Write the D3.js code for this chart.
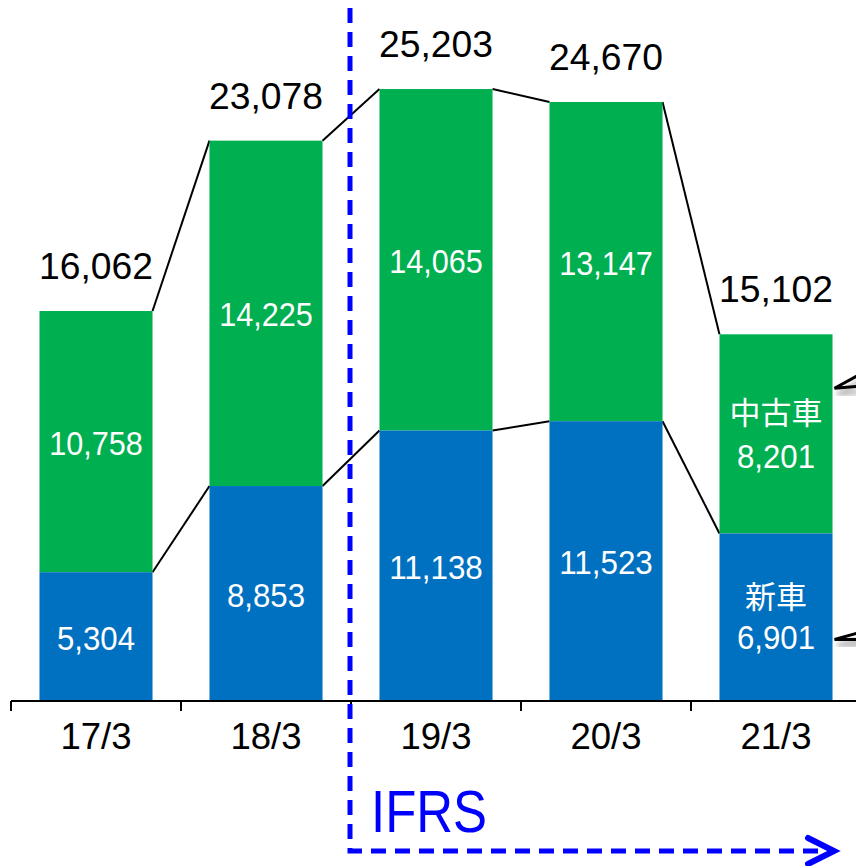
<!DOCTYPE html>
<head>
  <meta charset="utf-8">
  <script src="https://cdn.jsdelivr.net/npm/d3@7"></script>
  <style>
    body { margin:0; background:#fff; }
    text { font-family: "Liberation Sans", "Noto Sans CJK JP", sans-serif; }
  </style>
</head>
<body>
<script>
  const categories = ["17/3", "18/3", "19/3", "20/3", "21/3"];
  const newCar = [5304, 8853, 11138, 11523, 6901];
  const usedCar = [10758, 14225, 14065, 13147, 8201];

  let width = 856, height = 866;
  let base = 701;

  let svg = d3.select("body").append("svg")
    .attr("width", width)
    .attr("height", height);

  let data = categories.map((c, i) => ({
    cat: c, nw: newCar[i], used: usedCar[i], total: newCar[i] + usedCar[i]
  }));

  let x = d3.scaleBand()
    .domain(categories)
    .range([11, 861])
    .paddingInner(0.335)
    .paddingOuter(0.1675);

  let y = d3.scaleLinear()
    .domain([0, 28870])
    .range([base, 0]);

  let fmt = d3.format(",");
  let last = categories[categories.length - 1];
  let cx = d => x(d.cat) + x.bandwidth() / 2;

  // narrow gothic-like digits: squeeze text to a fixed advance per char
  function narrow(sel, adv) {
    sel.attr("textLength", function() { return this.textContent.length * adv; })
       .attr("lengthAdjust", "spacingAndGlyphs");
  }

  // connector lines between bars
  for (let i = 0; i < data.length - 1; i++) {
    let a = data[i], b = data[i + 1];
    [d => d.total, d => d.nw].forEach(f => {
      svg.append("line")
        .attr("x1", x(a.cat) + x.bandwidth()).attr("y1", y(f(a)))
        .attr("x2", x(b.cat)).attr("y2", y(f(b)))
        .attr("stroke", "#000").attr("stroke-width", 2);
    });
  }

  // stacked bars
  svg.selectAll(".used").data(data).enter().append("rect")
    .attr("x", d => x(d.cat))
    .attr("y", d => y(d.total))
    .attr("width", x.bandwidth())
    .attr("height", d => y(d.nw) - y(d.total))
    .attr("fill", "#00AF50");

  svg.selectAll(".new").data(data).enter().append("rect")
    .attr("x", d => x(d.cat))
    .attr("y", d => y(d.nw))
    .attr("width", x.bandwidth())
    .attr("height", d => base - y(d.nw))
    .attr("fill", "#0070C0");

  // x axis
  let axis = svg.append("g");
  axis.append("line")
    .attr("x1", 11).attr("x2", width).attr("y1", base).attr("y2", base)
    .attr("stroke", "#000").attr("stroke-width", 2);
  axis.selectAll(".tick").data(categories).enter().append("line")
    .attr("x1", d => x(d) - x.step() * x.paddingOuter())
    .attr("x2", d => x(d) - x.step() * x.paddingOuter())
    .attr("y1", base).attr("y2", base + 10)
    .attr("stroke", "#000").attr("stroke-width", 2);
  axis.selectAll(".lab").data(categories).enter().append("text")
    .attr("x", d => x(d) + x.bandwidth() / 2)
    .attr("y", base + 48)
    .attr("text-anchor", "middle")
    .attr("font-size", 36)
    .text(d => d)
    .call(narrow, 17.8);

  // totals above bars
  svg.selectAll(".tot").data(data).enter().append("text")
    .attr("x", cx)
    .attr("y", d => y(d.total) - 32)
    .attr("text-anchor", "middle")
    .attr("font-size", 36)
    .text(d => fmt(d.total))
    .call(narrow, 19);

  // values inside segments
  svg.selectAll(".uv").data(data).enter().append("text")
    .attr("x", cx)
    .attr("y", d => (y(d.total) + y(d.nw)) / 2 + (d.cat === last ? 34 : 13))
    .attr("text-anchor", "middle")
    .attr("font-size", 34)
    .attr("fill", "#fff")
    .text(d => fmt(d.used))
    .call(narrow, 15.6);

  svg.selectAll(".nv").data(data).enter().append("text")
    .attr("x", cx)
    .attr("y", d => (y(d.nw) + base) / 2 + (d.cat === last ? 32 : 13))
    .attr("text-anchor", "middle")
    .attr("font-size", 34)
    .attr("fill", "#fff")
    .text(d => fmt(d.nw))
    .call(narrow, 15.6);

  let ld = data[data.length - 1];
  svg.append("text")
    .attr("x", cx(ld)).attr("y", (y(ld.total) + y(ld.nw)) / 2 - 10)
    .attr("text-anchor", "middle").attr("font-size", 31).attr("fill", "#fff")
    .style("font-family", "'Noto Sans CJK JP', sans-serif")
    .text("中古車");
  svg.append("text")
    .attr("x", cx(ld)).attr("y", (y(ld.nw) + base) / 2 - 9)
    .attr("text-anchor", "middle").attr("font-size", 31).attr("fill", "#fff")
    .style("font-family", "'Noto Sans CJK JP', sans-serif")
    .text("新車");

  // callout arrow tips pointing at the last bar
  let defs = svg.append("defs");
  defs.append("filter").attr("id", "blur")
    .append("feGaussianBlur").attr("stdDeviation", 2.5);
  let tipX = x(last) + x.bandwidth() + 2;
  [[y(ld.total) + 54, 14, 2], [y(ld.nw) + 106, 7, 0]].forEach(([ty, up, down]) => {
    let p = `M${width + 4},${ty - up} L${tipX},${ty} L${width + 4},${ty - down}`;
    svg.append("path").attr("d", p)
      .attr("transform", "translate(3,6)")
      .attr("fill", "none").attr("stroke", "#999").attr("stroke-width", 5)
      .attr("opacity", 0.6).attr("filter", "url(#blur)");
    svg.append("path").attr("d", p)
      .attr("fill", "none").attr("stroke", "#000").attr("stroke-width", 3)
      .attr("stroke-linejoin", "miter");
  });

  // IFRS bracket
  let bx = 350, by = 851;
  svg.append("path")
    .attr("d", `M${bx},8 L${bx},${by} L832,${by}`)
    .attr("fill", "none")
    .attr("stroke", "#0000FF")
    .attr("stroke-width", 5)
    .attr("stroke-dasharray", "15,9");
  svg.append("path")
    .attr("d", `M808,${by - 13} L834,${by} L808,${by + 13}`)
    .attr("fill", "none")
    .attr("stroke", "#0000FF")
    .attr("stroke-width", 6)
    .attr("stroke-linecap", "round");
  svg.append("text")
    .attr("x", 371).attr("y", 832)
    .style("font-family", "'Liberation Sans', Arial, sans-serif")
    .attr("font-size", 59)
    .attr("fill", "#0000FF")
    .attr("textLength", 116)
    .attr("lengthAdjust", "spacingAndGlyphs")
    .text("IFRS");
</script>
</body>
